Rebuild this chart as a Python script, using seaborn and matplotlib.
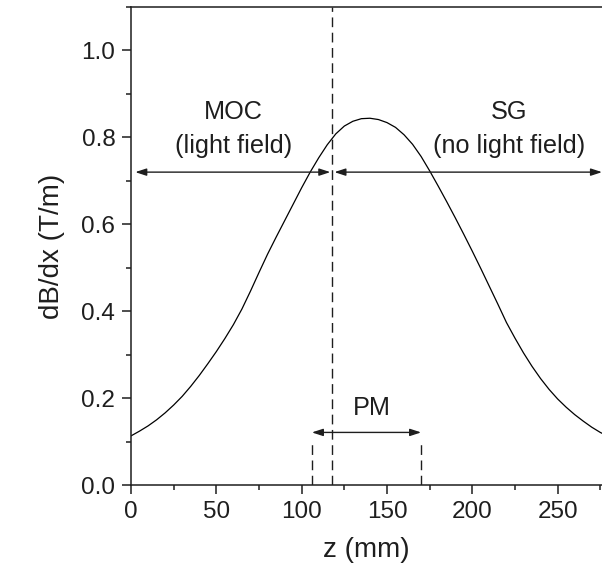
import matplotlib
matplotlib.use("Agg")
import matplotlib.pyplot as plt
from matplotlib.ticker import MultipleLocator, FormatStrFormatter
import pandas as pd
import seaborn as sns

# Field gradient profile along the beam axis
z_mm = [0, 5, 10, 15, 20, 25, 30, 35, 40, 45, 50, 55, 60, 65, 70, 75, 80,
        85, 90, 95, 100, 105, 110, 115, 120, 125, 130, 135, 140, 145, 150,
        155, 160, 165, 170, 175, 180, 185, 190, 195, 200, 205, 210, 215,
        220, 225, 230, 235, 240, 245, 250, 255, 260, 265, 270, 275, 276]
gradient = [0.113, 0.124, 0.136, 0.150, 0.166, 0.184, 0.204, 0.227, 0.252,
            0.279, 0.307, 0.337, 0.369, 0.405, 0.446, 0.489, 0.531, 0.570,
            0.608, 0.646, 0.684, 0.720, 0.753, 0.783, 0.808, 0.826, 0.837,
            0.843, 0.844, 0.841, 0.834, 0.823, 0.806, 0.784, 0.756, 0.723,
            0.688, 0.652, 0.615, 0.577, 0.538, 0.498, 0.457, 0.416, 0.374,
            0.338, 0.304, 0.273, 0.245, 0.220, 0.198, 0.179, 0.162, 0.147,
            0.133, 0.121, 0.119]

# Region boundaries (mm)
boundary_z = 118
pm_start, pm_end = 106, 170
z_max = 276

sns.set_theme(style="ticks")
plt.rcParams["font.family"] = ["Liberation Sans", "DejaVu Sans"]

df = pd.DataFrame({"z": z_mm, "dBdx": gradient})

fig = plt.figure(figsize=(6.02, 5.77), dpi=100)
ax = fig.add_axes([131 / 602, 1 - 485 / 577, 1 - 131 / 602, (485 - 7) / 577])

sns.lineplot(data=df, x="z", y="dBdx", ax=ax, color="black", linewidth=0.9)

ax.set_xlim(0, z_max)
ax.set_ylim(0, 1.1)
ax.xaxis.set_major_locator(MultipleLocator(50))
ax.xaxis.set_minor_locator(MultipleLocator(25))
ax.yaxis.set_major_locator(MultipleLocator(0.2))
ax.yaxis.set_minor_locator(MultipleLocator(0.1))
ax.yaxis.set_major_formatter(FormatStrFormatter("%.1f"))

ink = "#1e1e1e"
for side in ["left", "bottom", "top"]:
    ax.spines[side].set_linewidth(1.1)
    ax.spines[side].set_color(ink)
ax.spines["right"].set_visible(False)

ax.tick_params(which="major", length=6.3, width=1.1, labelsize=17.5,
               color=ink, labelcolor=ink, pad=5)
ax.tick_params(which="minor", length=3.5, width=1.1, color=ink)
ax.tick_params(axis="x", which="both", top=False)
ax.tick_params(axis="y", which="both", right=False)

ax.set_xlabel("z (mm)", fontsize=20, color=ink, labelpad=10)
ax.set_ylabel("dB/dx (T/m)", fontsize=20, color=ink, labelpad=12)

dash = (0, (7, 4))
ax.axvline(boundary_z, color=ink, linewidth=1.0, linestyle=dash)
ax.plot([pm_start, pm_start], [0, 0.1], color=ink, linewidth=1.0, linestyle=dash)
ax.plot([pm_end, pm_end], [0, 0.1], color=ink, linewidth=1.0, linestyle=dash)

arrow = dict(arrowstyle="<|-|>,head_length=0.55,head_width=0.18",
             color=ink, linewidth=1.0, shrinkA=0, shrinkB=0)
arrow_y = 0.72
ax.annotate("", xy=(2.5, arrow_y), xytext=(boundary_z - 1.2, arrow_y), arrowprops=arrow)
ax.annotate("", xy=(boundary_z + 1.2, arrow_y), xytext=(z_max, arrow_y), arrowprops=arrow,
            annotation_clip=False)
ax.annotate("", xy=(pm_start, 0.121), xytext=(pm_end, 0.121), arrowprops=arrow)

text_kw = dict(ha="center", va="center", fontsize=18.2, color=ink)
ax.text(60, 0.858, "MOC", **text_kw)
ax.text(60, 0.781, "(light field)", **text_kw)
ax.text(221.5, 0.858, "SG", **text_kw)
ax.text(221.5, 0.781, "(no light field)", **text_kw)
ax.text(141, 0.178, "PM", **text_kw)

fig.savefig("out.png", dpi=100)
